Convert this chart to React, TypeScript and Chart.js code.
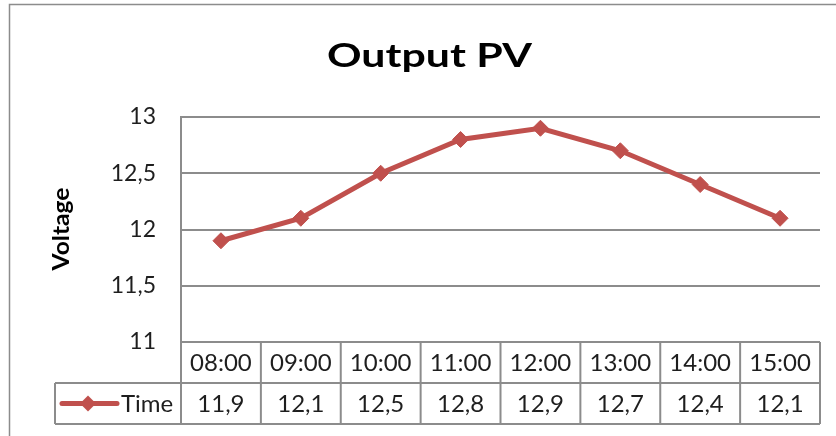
import React, { useEffect, useRef } from "react";
import { Chart, registerables } from "chart.js";

Chart.register(...registerables);

const chartTitle = "Output PV";
const yAxisTitle = "Voltage";
const seriesName = "Time";
const categories = ["08:00", "09:00", "10:00", "11:00", "12:00", "13:00", "14:00", "15:00"];
const voltage = [11.9, 12.1, 12.5, 12.8, 12.9, 12.7, 12.4, 12.1];
const yMin = 11;
const yMax = 13;
const yStep = 0.5;

const RED = "#C0504D";
const GRID = "#8c8c8c";
const TEXT = "#1e1e1e";
const FONT = "Lato, 'Open Sans', sans-serif";

const fmt = (v: number) => String(v).replace(".", ",");

function drawFitted(
  ctx: CanvasRenderingContext2D,
  text: string,
  x: number,
  y: number,
  font: string,
  targetWidth: number,
  rotate = 0
) {
  ctx.save();
  ctx.font = font;
  const w = ctx.measureText(text).width;
  ctx.translate(x, y);
  if (rotate) ctx.rotate(rotate);
  ctx.scale(targetWidth / w, 1);
  ctx.textAlign = "center";
  ctx.fillText(text, 0, 0);
  ctx.restore();
}

const tablePlugin = {
  id: "excelTable",
  afterDraw(chart: any) {
    const ctx = chart.ctx as CanvasRenderingContext2D;
    const area = chart.chartArea;
    const xs = chart.scales.x;
    const n = categories.length;
    const step = xs.getPixelForValue(1) - xs.getPixelForValue(0);
    const rowH = 41;
    const top = area.bottom;
    const legendLeft = 55;

    ctx.save();
    // outer chart border (top & left)
    ctx.strokeStyle = "#8c8c8c";
    ctx.lineWidth = 1.5;
    ctx.beginPath();
    ctx.moveTo(9.5, chart.height);
    ctx.lineTo(9.5, 4.5);
    ctx.lineTo(chart.width, 4.5);
    ctx.stroke();

    // title
    ctx.fillStyle = "#000";
    ctx.textBaseline = "alphabetic";
    drawFitted(ctx, chartTitle, 429.5, 67, `bold 33px ${FONT}`, 205);

    // y axis title
    ctx.textBaseline = "middle";
    drawFitted(ctx, yAxisTitle, 62, 229, `bold 23px ${FONT}`, 83, -Math.PI / 2);

    // data table
    ctx.strokeStyle = GRID;
    ctx.lineWidth = 2;
    const left0 = xs.getPixelForValue(0) - step / 2;
    const right0 = xs.getPixelForValue(n - 1) + step / 2;
    ctx.beginPath();
    ctx.moveTo(left0, top);
    ctx.lineTo(right0, top);
    ctx.moveTo(legendLeft, top + rowH);
    ctx.lineTo(right0, top + rowH);
    ctx.moveTo(legendLeft, top + 2 * rowH);
    ctx.lineTo(right0, top + 2 * rowH);
    ctx.moveTo(legendLeft, top + rowH);
    ctx.lineTo(legendLeft, top + 2 * rowH);
    for (let i = 0; i <= n; i++) {
      const x = left0 + i * step;
      ctx.moveTo(x, top);
      ctx.lineTo(x, top + 2 * rowH);
    }
    ctx.stroke();

    ctx.fillStyle = TEXT;
    ctx.font = `24px ${FONT}`;
    ctx.textAlign = "center";
    ctx.textBaseline = "middle";
    for (let i = 0; i < n; i++) {
      const cx = xs.getPixelForValue(i);
      ctx.fillText(categories[i], cx, top + rowH / 2 + 1);
      ctx.fillText(fmt(voltage[i]), cx, top + rowH * 1.5 + 1);
    }

    // legend cell
    const ly = top + rowH * 1.5;
    ctx.strokeStyle = RED;
    ctx.lineWidth = 5;
    ctx.lineCap = "round";
    ctx.beginPath();
    ctx.moveTo(62, ly);
    ctx.lineTo(117, ly);
    ctx.stroke();
    ctx.fillStyle = RED;
    ctx.beginPath();
    ctx.moveTo(88, ly - 8);
    ctx.lineTo(96, ly);
    ctx.lineTo(88, ly + 8);
    ctx.lineTo(80, ly);
    ctx.closePath();
    ctx.fill();
    ctx.fillStyle = TEXT;
    ctx.textAlign = "left";
    ctx.fillText(seriesName, 121, ly + 1);
    ctx.restore();
  },
};

export default function App() {
  const ref = useRef<HTMLCanvasElement | null>(null);
  useEffect(() => {
    if (!ref.current) return;
    const chart = new Chart(ref.current, {
      type: "line",
      data: {
        labels: categories,
        datasets: [
          {
            label: seriesName,
            data: voltage,
            borderColor: RED,
            backgroundColor: RED,
            borderWidth: 5,
            pointStyle: "rectRot",
            pointRadius: 8,
            pointHoverRadius: 8,
            pointBackgroundColor: RED,
            pointBorderColor: RED,
            pointBorderWidth: 1,
            tension: 0,
          },
        ],
      },
      options: {
        responsive: false,
        animation: false,
        layout: { padding: { left: 0, right: 16, top: 117, bottom: 94 } },
        plugins: {
          legend: { display: false },
          title: { display: false },
          tooltip: { enabled: false },
        },
        scales: {
          x: {
            type: "category",
            display: false,
            offset: true,
          },
          y: {
            min: yMin,
            max: yMax,
            afterFit(scale: any) {
              scale.width = 181;
            },
            ticks: {
              stepSize: yStep,
              padding: 25,
              color: TEXT,
              font: { family: FONT, size: 23 },
              callback: (v: any) => fmt(Number(v)),
            },
            grid: {
              color: GRID,
              lineWidth: 2,
              drawTicks: false,
            },
            border: { display: true, color: GRID, width: 2 },
          },
        },
      },
      plugins: [tablePlugin],
    });
    return () => chart.destroy();
  }, []);
  return (
    <div style={{ position: "fixed", left: 0, top: 0, width: 836, height: 436, background: "#fff" }}>
      <canvas ref={ref} width={836} height={436} />
    </div>
  );
}
